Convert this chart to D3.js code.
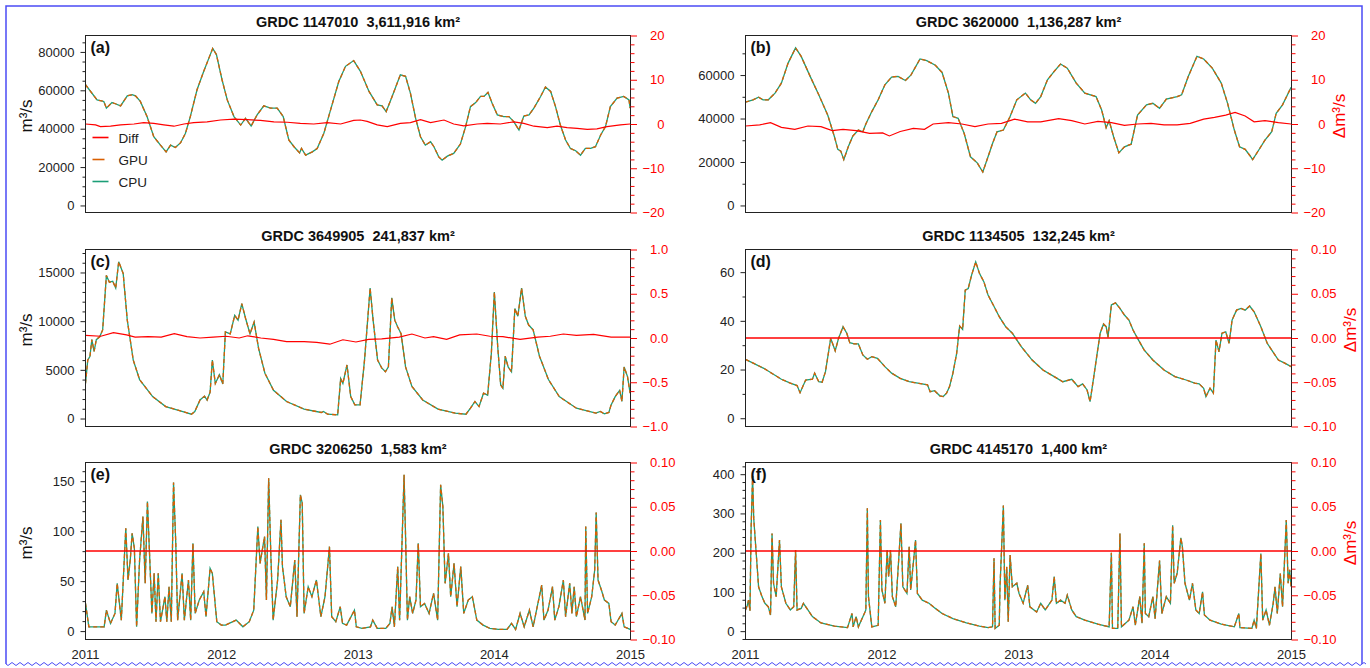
<!DOCTYPE html>
<html>
<head>
<meta charset="utf-8">
<script src="https://cdn.jsdelivr.net/npm/d3@7"></script>
<style>
  body { margin: 0; background: #fff; }
  svg { display: block; font-family: "Liberation Sans", Arial, Helvetica, sans-serif; }
</style>
</head>
<body>
<svg id="chart" width="1370" height="668"></svg>
<script>
// ---- data (days since 2011-01-01) ----
const years = [2011, 2012, 2013, 2014, 2015];

// (a) GRDC 1147010
const aDays = [0,31,49,56,71,80,94,112,125,134,147,165,183,201,216,228,241,255,268,281,299,317,331,341,351,366,380,398,416,429,444,460,478,496,514,530,545,559,574,579,590,608,621,639,657,679,697,719,737,760,782,795,806,822,844,858,871,885,898,911,925,934,947,956,970,987,1005,1019,1032,1046,1059,1068,1079,1090,1104,1121,1135,1148,1162,1175,1189,1202,1220,1233,1247,1260,1273,1287,1300,1314,1327,1340,1354,1367,1381,1394,1407,1425,1443,1457,1460];
const aCPU = [62900,55000,54200,50700,53600,53000,51900,57100,57700,57100,54200,46300,35800,31400,27950,31400,30200,32700,37600,46300,60300,69900,76900,81800,78600,65500,55000,46300,41900,45400,41400,47200,51900,50700,50700,46300,34100,30600,27400,29700,26200,27950,29700,37600,49800,64600,72500,75500,69900,59400,52400,51900,48900,56800,68100,67300,58500,45400,35800,31400,33200,30600,25300,23600,25700,27100,32000,41100,51500,53600,56800,56800,58900,53300,47200,46300,46300,43700,39300,46600,47200,50700,56800,61700,59400,51500,41900,34100,29700,28500,26200,29700,29700,30600,36700,41100,51500,55900,56800,55000,50700];
const aGPU = aCPU; // GPU and CPU overlap at plotting resolution
const aDiffDays = [0,27,40,67,94,130,156,183,210,237,264,290,326,362,398,433,469,505,541,576,612,648,684,719,737,755,782,809,844,871,898,925,961,987,1014,1050,1077,1112,1148,1175,1202,1238,1264,1291,1318,1345,1371,1398,1434,1460];
const aDiff = [0,-0.2,-0.6,-0.5,-0.2,0,0.3,0.15,-0.2,-0.5,0,0.3,0.5,0.9,1.1,1.0,0.8,0.5,0.4,0.15,0,0.3,0,0.8,0.9,0.6,-0.2,-0.6,0.15,0.3,1.0,0.3,0.9,0,-0.4,0,0.15,0,0.5,0.15,-0.5,-0.8,-0.5,-0.8,-1.0,-1.2,-1.1,-0.6,-0.2,0];

// (b) GRDC 3620000
const bDays = [0,20,35,47,61,79,96,114,134,149,173,196,220,238,247,255,263,275,287,302,314,322,338,355,373,391,408,428,443,467,485,508,526,543,555,569,585,602,620,635,649,661,673,690,708,726,749,763,776,790,808,826,843,861,885,908,938,953,965,973,985,999,1014,1032,1049,1073,1090,1108,1126,1155,1167,1185,1208,1226,1249,1273,1290,1308,1322,1337,1349,1357,1373,1390,1408,1420,1437,1460];
const bCPU = [47500,48600,49800,48600,48600,51700,56300,65500,72500,68600,59400,50900,41600,31600,25800,25000,21100,27000,31900,34700,33900,37500,43200,48600,55500,59100,59400,57500,60100,67400,66600,64500,61200,51700,40900,40100,33200,22400,19600,15400,22400,28500,33900,34700,40900,48600,51700,48600,47000,50100,57800,61700,65100,63200,56300,51700,50100,43900,35800,39000,31600,24200,27000,28200,41600,46300,47000,44700,48900,50100,50900,59400,68600,67400,63200,56300,47000,34700,27000,25800,23100,21100,25400,30100,33900,42400,46300,54400];
const bGPU = bCPU;
const bDiffDays = [0,38,67,96,132,167,202,232,261,296,332,367,385,414,449,479,502,543,579,614,649,685,720,755,790,838,873,908,943,979,1014,1049,1085,1120,1155,1190,1226,1255,1285,1310,1337,1361,1390,1426,1460];
const bDiff = [-0.45,-0.2,0.3,-0.75,-1.2,-0.45,-0.6,-1.5,-1.2,-1.5,-2.1,-2.0,-2.7,-1.7,-1.0,-1.2,0,0.3,0,-0.6,0,0.15,1.1,0.5,0.5,1.2,0.75,0,0.6,0.3,-0.3,0,0.15,-0.2,-0.2,0.15,1.1,1.5,2.0,2.6,1.8,0.5,0.75,0.3,0];

// (c) GRDC 3649905
const cDays = [0,6,12,17,23,29,38,46,56,64,73,81,89,101,112,128,145,180,215,261,284,293,307,319,326,334,340,348,359,368,375,388,400,409,419,429,441,452,464,481,504,539,586,632,638,649,676,684,690,701,711,722,736,748,763,771,783,794,804,812,821,829,837,846,858,875,904,945,991,1020,1032,1044,1055,1067,1078,1088,1096,1105,1113,1119,1125,1133,1142,1151,1159,1169,1179,1188,1200,1217,1241,1270,1316,1368,1380,1391,1403,1409,1420,1432,1438,1444,1453,1460];
const cCPU = [3600,6000,6400,8100,6900,8100,8400,9100,14700,14000,14100,13400,16100,14900,10100,6000,4000,2250,1230,720,440,720,1900,2300,1900,2700,6000,3600,4500,3550,8900,8700,10600,10100,11800,10300,8700,9900,7200,4650,2900,1750,960,620,720,440,380,4100,3600,5500,2250,1400,1400,6000,13400,10100,6000,5200,4800,5300,12400,10100,9400,8700,5300,3300,1900,960,550,440,1060,1750,1230,2600,2400,6700,13000,7400,3450,3100,6400,5300,4800,11300,10500,13400,10500,9600,9100,6400,4000,2250,1060,550,720,480,620,1400,2250,2900,1750,5300,4300,2600];
const cGPU = cCPU;
const cDiffDays = [0,41,75,110,133,168,203,238,272,307,342,377,412,435,470,504,539,586,620,655,690,725,759,794,841,875,910,933,968,1003,1049,1084,1119,1165,1212,1246,1281,1316,1362,1409,1460];
const cDiff = [0.03,0.02,0.06,0.035,0.01,0.015,0.01,0.05,0.015,0,0.01,0.02,0,0.025,0,-0.015,-0.04,-0.04,-0.05,-0.07,-0.02,-0.045,-0.015,-0.01,0.01,0.045,0,0.015,-0.015,0.035,0.045,0.02,0.015,-0.015,0.01,0.02,0.045,0.03,0.04,0.01,0.01];

// (d) GRDC 1134505
const dDays = [0,49,96,120,138,146,161,179,185,196,205,214,228,240,249,261,271,279,291,302,314,326,338,353,373,391,414,438,461,487,494,506,520,529,538,546,555,565,573,581,588,596,605,616,626,638,649,663,679,696,714,738,767,796,826,849,873,890,902,914,922,932,941,949,958,965,970,979,990,1002,1014,1026,1037,1049,1067,1090,1120,1149,1179,1202,1214,1226,1232,1243,1252,1259,1267,1275,1285,1294,1302,1314,1326,1337,1349,1361,1379,1396,1414,1426,1443,1460];
const dCPU = [24.2,20.5,16.0,14.4,13.4,10.5,15.7,16.0,18.5,15.0,14.8,19.1,32.8,27.7,32.8,37.6,34.9,31.0,30.5,30.5,26.0,24.2,25.3,24.6,21.2,18.5,16.4,15.0,14.4,13.7,10.9,11.3,9.2,8.9,10.3,13.0,18.5,26.6,37.9,36.5,52.6,53.3,58.8,64.2,59.5,56.0,50.6,46.5,41.7,37.6,34.9,29.4,23.9,19.8,17.1,15.0,16.0,13.0,14.1,11.6,6.8,17.1,26.6,34.9,38.7,37.6,33.2,46.5,47.4,45.1,42.4,40.3,36.2,32.8,28.0,23.9,19.8,17.1,15.7,14.4,14.1,12.3,8.9,12.3,10.3,32.1,27.3,34.9,35.5,30.8,40.3,44.4,45.1,44.4,46.1,43.7,37.6,30.8,26.6,23.9,22.6,21.2];
const dGPU = dCPU;
const dDiffDays = [0,183,365,548,730,913,1096,1278,1460];
const dDiff = [0,0,0,0,0,0,0,0,0];

// (e) GRDC 3206250
const eDays = [0,9,50,56,67,79,85,96,108,114,120,125,131,137,145,154,160,166,172,178,184,189,195,201,213,218,224,230,236,242,247,259,265,276,282,288,294,305,317,323,334,340,352,364,375,404,422,439,451,462,468,474,480,485,491,497,503,515,524,528,538,549,561,567,576,581,586,597,607,619,631,642,654,660,671,683,689,700,721,726,741,764,770,782,805,816,822,828,837,842,849,854,858,863,869,877,886,892,898,909,921,933,944,952,958,964,973,979,988,996,1006,1014,1026,1037,1049,1066,1084,1107,1130,1142,1153,1165,1176,1190,1200,1211,1223,1229,1240,1252,1258,1269,1281,1287,1298,1304,1310,1316,1327,1339,1341,1346,1357,1365,1369,1374,1383,1391,1403,1409,1420,1438,1444,1460];
const eCPU = [27.7,4.3,4.3,21.0,7.7,17.7,47.8,11.0,102.9,51.1,71.2,97.9,82.9,4.3,71.2,114.6,47.8,129.6,74.5,17.7,57.8,9.4,57.8,9.4,34.4,9.4,44.4,9.4,148.7,87.9,11.0,57.8,11.0,51.1,11.0,87.9,17.7,31.1,39.4,14.4,62.8,57.8,9.4,6.0,6.0,11.0,4.3,9.4,21.0,104.6,67.8,81.2,94.6,31.1,153.0,74.5,11.0,51.1,111.3,64.5,34.4,24.4,71.2,14.4,136.3,128.0,17.7,44.4,34.4,51.1,14.4,34.4,84.5,14.4,9.4,24.4,7.7,6.0,21.0,4.3,2.7,4.3,11.0,2.7,2.7,7.7,24.4,4.3,64.5,11.0,94.6,156.4,94.6,11.0,34.4,17.7,31.1,87.9,24.4,27.7,17.7,37.8,11.0,146.3,124.6,47.8,77.8,34.4,67.8,24.4,64.5,17.7,31.1,34.4,11.0,6.0,2.7,1.7,1.7,7.7,1.7,17.7,4.3,21.0,4.3,24.4,46.1,11.0,21.0,44.4,11.0,24.4,51.1,14.4,47.8,17.7,44.4,14.4,34.4,11.0,104.6,17.7,34.4,61.1,118.6,51.1,41.1,31.1,27.7,9.4,6.0,17.7,4.3,1.7];
const eGPU = eCPU;
const eDiffDays = [0,183,365,548,730,913,1096,1278,1460];
const eDiff = [0,0,0,0,0,0,0,0,0];

// (f) GRDC 4145170
const fDays = [0,5,8,12,15,19,22,28,35,44,52,61,67,71,75,82,91,96,108,120,129,134,138,149,155,167,179,202,238,273,285,288,296,302,318,322,326,329,338,355,361,365,373,379,383,388,393,402,416,421,432,438,442,455,460,473,491,508,526,555,591,626,649,661,665,668,679,681,690,694,699,703,708,714,726,732,743,755,761,779,790,802,820,826,832,843,855,861,873,885,908,943,973,979,982,996,1002,1006,1026,1037,1043,1055,1061,1067,1070,1079,1090,1096,1108,1114,1126,1137,1143,1147,1155,1165,1169,1176,1188,1196,1205,1214,1223,1228,1243,1273,1308,1320,1323,1355,1361,1367,1379,1384,1393,1402,1412,1417,1423,1431,1437,1447,1452,1456,1460];
const fCPU = [54,66,79,52,262,396,288,207,113,88,71,62,41,249,122,88,232,113,71,54,62,207,54,58,71,54,37,21,13,9,45,11,37,11,45,54,313,88,11,15,283,105,71,207,139,207,88,62,275,113,96,215,105,232,96,79,71,58,45,32,21,13,9,11,186,7,15,113,320,79,164,24,194,113,122,96,71,117,62,49,71,54,79,139,71,79,71,92,54,37,28,18,11,200,7,7,249,11,28,62,15,88,20,224,45,37,88,32,180,45,88,71,270,122,147,238,215,122,79,122,54,45,100,41,28,18,11,45,9,7,28,7,198,28,54,15,71,113,45,147,62,283,122,156,113];
const fGPU = fCPU;
const fDiffDays = [0,183,365,548,730,913,1096,1278,1460];
const fDiff = [0,0,0,0,0,0,0,0,0];

// axis ranges and ticks
const aYDomain = [-3670, 88560], aYTicks = [0, 20000, 40000, 60000, 80000];
const bYDomain = [-3240, 78200], bYTicks = [0, 20000, 40000, 60000];
const cYDomain = [-820, 17360], cYTicks = [0, 5000, 10000, 15000];
const dYDomain = [-3.4, 69.3], dYTicks = [0, 20, 40, 60];
const eYDomain = [-8.4, 168.7], eYTicks = [0, 50, 100, 150];
const fYDomain = [-21.3, 429.8], fYTicks = [0, 100, 200, 300, 400];
const bigRTicks = [-20, -10, 0, 10, 20];
const midRTicks = [-1.0, -0.5, 0.0, 0.5, 1.0];
const smallRTicks = [-0.10, -0.05, 0.00, 0.05, 0.10];

const panels = [
  { tag: '(a)', station: '1147010', area: '3,611,916', days: aDays, cpu: aCPU, gpu: aGPU, diffDays: aDiffDays, diff: aDiff,
    yDomain: aYDomain, yTicks: aYTicks, yMinor: 5000, rTicks: bigRTicks, rMinor: 2, rFmt: d3.format('d'), legend: true },
  { tag: '(b)', station: '3620000', area: '1,136,287', days: bDays, cpu: bCPU, gpu: bGPU, diffDays: bDiffDays, diff: bDiff,
    yDomain: bYDomain, yTicks: bYTicks, yMinor: 10000, rTicks: bigRTicks, rMinor: 2, rFmt: d3.format('d') },
  { tag: '(c)', station: '3649905', area: '241,837', days: cDays, cpu: cCPU, gpu: cGPU, diffDays: cDiffDays, diff: cDiff,
    yDomain: cYDomain, yTicks: cYTicks, yMinor: 1000, rTicks: midRTicks, rMinor: 0.1, rFmt: d3.format('.1f') },
  { tag: '(d)', station: '1134505', area: '132,245', days: dDays, cpu: dCPU, gpu: dGPU, diffDays: dDiffDays, diff: dDiff,
    yDomain: dYDomain, yTicks: dYTicks, yMinor: 10, rTicks: smallRTicks, rMinor: 0.01, rFmt: d3.format('.2f') },
  { tag: '(e)', station: '3206250', area: '1,583', days: eDays, cpu: eCPU, gpu: eGPU, diffDays: eDiffDays, diff: eDiff,
    yDomain: eYDomain, yTicks: eYTicks, yMinor: 10, rTicks: smallRTicks, rMinor: 0.01, rFmt: d3.format('.2f') },
  { tag: '(f)', station: '4145170', area: '1,400', days: fDays, cpu: fCPU, gpu: fGPU, diffDays: fDiffDays, diff: fDiff,
    yDomain: fYDomain, yTicks: fYTicks, yMinor: 20, rTicks: smallRTicks, rMinor: 0.01, rFmt: d3.format('.2f') }
];

const CPU_COLOR = '#1b9e77', GPU_COLOR = '#d95f02', DIFF_COLOR = '#ff0000';

// ---- layout ----
const svg = d3.select('#chart');
const cols = [{ x0: 85.5, x1: 630.5 }, { x0: 745.5, x1: 1291.5 }];
const rowTop = [35.5, 249.5, 462.5];
const plotH = 177;
const t0 = new Date(Date.UTC(2011, 0, 1)), t1 = new Date(Date.UTC(2015, 0, 1));
const toDate = d => d3.utcDay.offset(t0, d);

// minor tick values between the majors
function minorTicks(domain, step, majors) {
  const lo = Math.ceil(domain[0] / step - 1e-9), hi = Math.floor(domain[1] / step + 1e-9);
  return d3.range(lo, hi + 1)
    .map(k => +(k * step).toFixed(6))
    .filter(v => !majors.some(m => Math.abs(m - v) < step / 100));
}

panels.forEach((p, i) => {
  const col = cols[i % 2];
  const row = Math.floor(i / 2);
  const top = rowTop[row], bottom = top + plotH;
  const isRight = i % 2 === 1;

  const x = d3.scaleUtc().domain([t0, t1]).range([col.x0, col.x1]);
  const y = d3.scaleLinear().domain(p.yDomain).range([bottom, top]);
  const yR = d3.scaleLinear().domain([p.rTicks[0], p.rTicks[p.rTicks.length - 1]]).range([bottom, top]);

  const g = svg.append('g');

  // clip
  const clipId = 'clip' + i;
  g.append('clipPath').attr('id', clipId)
    .append('rect')
    .attr('x', col.x0).attr('y', top)
    .attr('width', col.x1 - col.x0).attr('height', plotH);

  // title
  g.append('text')
    .attr('x', (col.x0 + col.x1) / 2)
    .attr('y', top - 8.5)
    .attr('text-anchor', 'middle')
    .style('white-space', 'pre')
    .style('font-size', '14.5px')
    .style('font-weight', 'bold')
    .style('fill', '#111')
    .text(`GRDC ${p.station}  ${p.area} km\u00B2`);

  // lines
  const lines = g.append('g').attr('clip-path', `url(#${clipId})`);
  const flowLine = d3.line()
    .x(d => x(toDate(d[0])))
    .y(d => y(d[1]));
  const diffLine = d3.line()
    .x(d => x(toDate(d[0])))
    .y(d => yR(d[1]));

  lines.append('path')
    .datum(d3.zip(p.days, p.cpu))
    .attr('fill', 'none')
    .attr('stroke', CPU_COLOR)
    .attr('stroke-width', 1.3)
    .attr('d', flowLine);

  lines.append('path')
    .datum(d3.zip(p.days, p.gpu))
    .attr('fill', 'none')
    .attr('stroke', GPU_COLOR)
    .attr('stroke-width', 1.3)
    .attr('stroke-dasharray', '4,3')
    .attr('d', flowLine);

  lines.append('path')
    .datum(d3.zip(p.diffDays, p.diff))
    .attr('fill', 'none')
    .attr('stroke', DIFF_COLOR)
    .attr('stroke-width', i >= 3 ? 1.6 : 1.2)
    .attr('d', diffLine);

  // frame
  g.append('rect')
    .attr('x', col.x0).attr('y', top)
    .attr('width', col.x1 - col.x0).attr('height', plotH)
    .attr('fill', 'none')
    .attr('stroke', '#222')
    .attr('stroke-width', 1);

  // left axis
  const gL = g.append('g').attr('transform', `translate(${col.x0},0)`);
  gL.append('g').call(d3.axisLeft(y)
    .tickValues(minorTicks(p.yDomain, p.yMinor, p.yTicks))
    .tickSize(3).tickFormat(''));
  gL.append('g').call(d3.axisLeft(y)
    .tickValues(p.yTicks)
    .tickSize(5).tickPadding(6)
    .tickFormat(d3.format('d')));
  gL.selectAll('.domain').remove();
  gL.selectAll('line').attr('stroke', '#222');
  gL.selectAll('text')
    .style('font-size', '13px')
    .style('fill', '#222')
    .style('font-family', '"Liberation Sans", Arial, sans-serif');

  // right axis (difference)
  const gR = g.append('g').attr('transform', `translate(${col.x1},0)`);
  gR.append('g').call(d3.axisRight(yR)
    .tickValues(minorTicks(yR.domain(), p.rMinor, p.rTicks))
    .tickSize(4).tickFormat(''));
  const rMaj = gR.append('g').call(d3.axisRight(yR)
    .tickValues(p.rTicks)
    .tickSize(6.5)
    .tickFormat(p.rFmt));
  gR.selectAll('.domain').remove();
  gR.selectAll('line').attr('stroke', DIFF_COLOR);
  const rText = rMaj.selectAll('text')
    .style('font-size', '13px')
    .style('fill', DIFF_COLOR)
    .style('font-family', '"Liberation Sans", Arial, sans-serif');
  const maxW = d3.max(rText.nodes(), n => n.getComputedTextLength());
  rText.attr('text-anchor', 'end').attr('x', 12 + maxW);

  // axis titles
  const cy = (top + bottom) / 2 - 8;
  if (!isRight) {
    g.append('text')
      .attr('transform', `translate(32,${cy}) rotate(-90)`)
      .attr('text-anchor', 'middle')
      .style('font-size', '17px')
      .style('fill', '#111')
      .text('m\u00B3/s');
  } else {
    g.append('text')
      .attr('transform', `translate(${col.x1 + 12 + maxW + 19.5},${cy}) rotate(-90)`)
      .attr('text-anchor', 'middle')
      .style('font-size', '17px')
      .style('fill', DIFF_COLOR)
      .text('\u0394m\u00B3/s');
  }

  // panel tag
  g.append('text')
    .attr('x', col.x0 + 5)
    .attr('y', top + 17)
    .style('font-size', '16px')
    .style('font-weight', 'bold')
    .style('fill', '#111')
    .text(p.tag);

  // year labels only under the bottom row
  if (row === 2) {
    g.append('g')
      .selectAll('text')
      .data(years)
      .enter()
      .append('text')
      .attr('x', d => x(new Date(Date.UTC(d, 0, 1))))
      .attr('y', 659)
      .attr('text-anchor', 'middle')
      .style('font-size', '13px')
      .style('fill', '#222')
      .text(d => d);
  }

  // legend (panel a)
  if (p.legend) {
    const items = [
      { name: 'Diff', color: DIFF_COLOR, dash: null, len: 16 },
      { name: 'GPU', color: GPU_COLOR, dash: null, len: 12 },
      { name: 'CPU', color: CPU_COLOR, dash: null, len: 16 }
    ];
    const lg = g.append('g').attr('transform', `translate(${col.x0 + 7},${top + 102})`);
    items.forEach((it, k) => {
      lg.append('line')
        .attr('x1', 0).attr('x2', it.len)
        .attr('y1', k * 22).attr('y2', k * 22)
        .attr('stroke', it.color)
        .attr('stroke-width', 1.6);
      lg.append('text')
        .attr('x', 26)
        .attr('y', k * 22 + 5)
        .style('font-size', '13.5px')
        .style('fill', '#222')
        .text(it.name);
    });
  }
});

// blue frame with a wavy bottom edge
const frameColor = '#4b4bf5';
svg.append('path')
  .attr('d', 'M6,664 V6 H1362 V664')
  .attr('fill', 'none')
  .attr('stroke', frameColor)
  .attr('stroke-width', 1.5);

let wave = 'M6,664';
for (let xx = 6; xx < 1362; xx += 8) {
  wave += ` q2,3 4,0 q2,-3 4,0`;
}
svg.append('path')
  .attr('d', wave)
  .attr('fill', 'none')
  .attr('stroke', frameColor)
  .attr('stroke-width', 1);
</script>
</body>
</html>
